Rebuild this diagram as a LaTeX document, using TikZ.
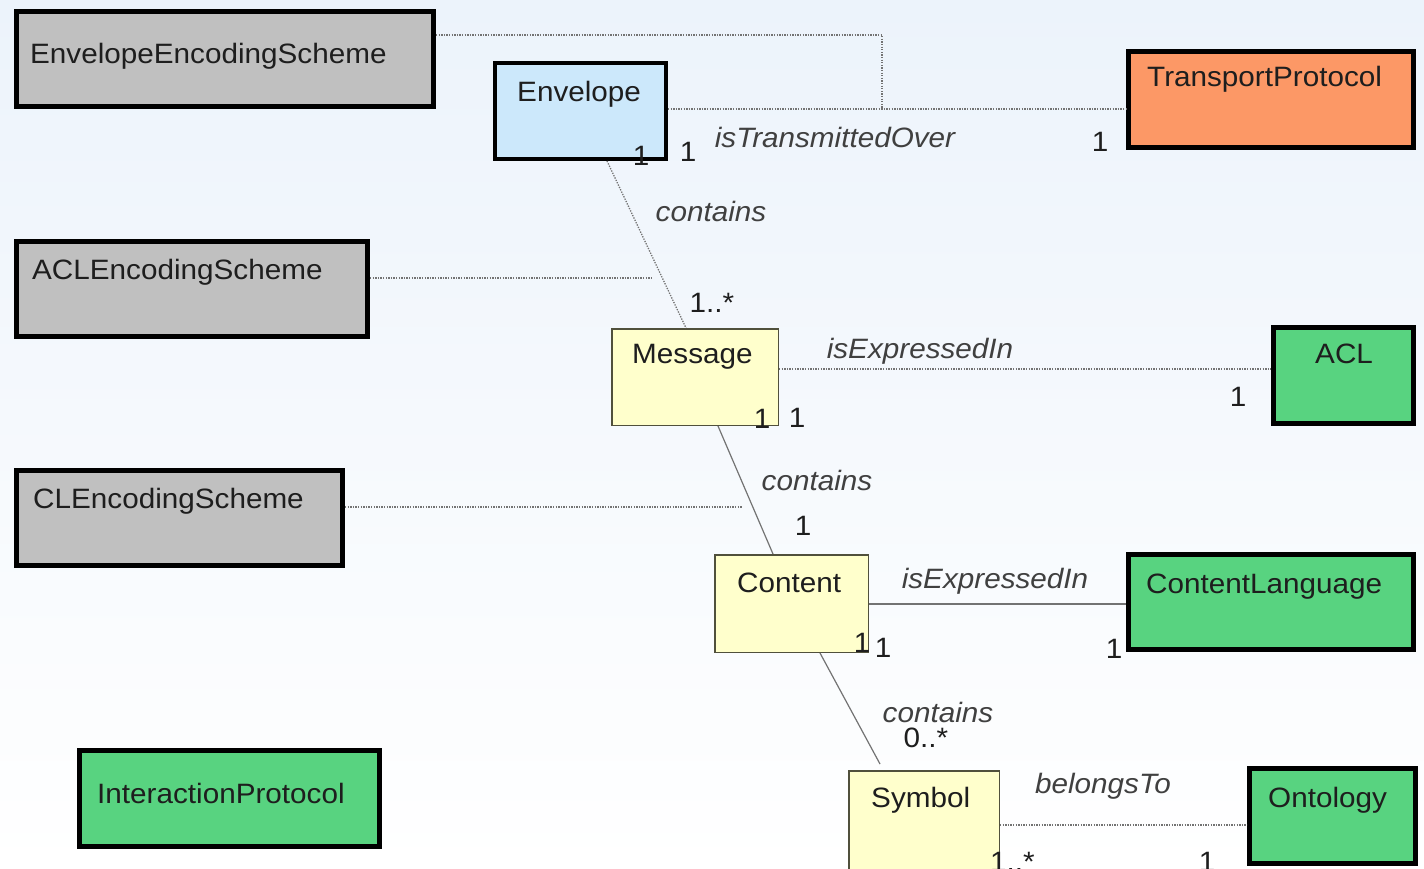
\documentclass[tikz,border=0pt]{standalone}
\usepackage{fontspec}
\setmainfont[FakeStretch=1.06]{Liberation Sans}
\definecolor{bgtop}{RGB}{236,243,251}
\definecolor{encgray}{RGB}{192,192,192}
\definecolor{envblue}{RGB}{204,232,251}
\definecolor{tporange}{RGB}{252,152,102}
\definecolor{langgreen}{RGB}{88,211,128}
\definecolor{classyellow}{RGB}{255,255,204}
\definecolor{boxedge}{RGB}{80,80,60}
\definecolor{linkgray}{RGB}{115,115,115}
\definecolor{textdark}{RGB}{30,30,30}
\begin{document}
\begin{tikzpicture}[x=1pt,y=-1pt,
  box/.style={rectangle, inner sep=0pt, draw=black},
  heavy/.style={box, line width=5pt},
  lightbox/.style={box, line width=1.5pt, draw=boxedge, fill=classyellow},
  classname/.style={anchor=base west, inner sep=0pt, font=\fontsize{28}{32}\selectfont, text=textdark},
  rolelabel/.style={anchor=base, inner sep=0pt, font=\fontsize{28}{32}\selectfont\itshape, text=textdark!85},
  multlabel/.style={anchor=base, inner sep=0pt, font=\fontsize{28}{32}\selectfont, text=textdark},
  dotlink/.style={draw=linkgray, line width=1.3pt, dash pattern=on 1.3pt off 1.3pt},
  solidlink/.style={draw=linkgray, line width=1.2pt},
]
\useasboundingbox (0,0) rectangle (1424,869);
\clip (0,0) rectangle (1424,869);
\shade[top color=bgtop, bottom color=white] (0,0) rectangle (1424,869);

% class boxes
\node[heavy, fill=encgray, minimum width=417pt, minimum height=95pt] (ees) at (225,59) {};
\node[heavy, line width=4pt, fill=envblue, minimum width=171pt, minimum height=96pt] (env) at (580.5,111) {};
\node[heavy, fill=tporange, minimum width=285pt, minimum height=96pt] (tp) at (1271,99.5) {};
\node[heavy, fill=encgray, minimum width=351pt, minimum height=95pt] (acles) at (192,289) {};
\node[lightbox, minimum width=166.5pt, minimum height=96.5pt] (msg) at (695,377) {};
\node[heavy, fill=langgreen, minimum width=140pt, minimum height=96pt] (acl) at (1343.5,375.5) {};
\node[heavy, fill=encgray, minimum width=326pt, minimum height=95pt] (cles) at (179.5,518) {};
\node[lightbox, minimum width=153.5pt, minimum height=97.5pt] (cnt) at (791.5,603.5) {};
\node[heavy, fill=langgreen, minimum width=285pt, minimum height=95pt] (cl) at (1271,602) {};
\node[heavy, fill=langgreen, minimum width=300pt, minimum height=96pt] (ip) at (229.5,798.5) {};
\node[lightbox, minimum width=150.5pt, minimum height=100.5pt] (sym) at (924,821) {};
\node[heavy, fill=langgreen, minimum width=166pt, minimum height=95pt] (ont) at (1332.5,816) {};

% associations
\coordinate (envjoin) at (882,109);
\coordinate (aclesend) at (652,278);
\coordinate (clesend) at (742,507);
\draw[dotlink] (ees.east |- 0,35) -| (envjoin);
\draw[dotlink] (env.east |- 0,109) -- (tp.west |- 0,109);
\draw[dotlink] (env.south -| 607,0) -- (msg.north -| 686,0);
\draw[dotlink] (acles.east |- 0,278) -- (aclesend);
\draw[dotlink] (msg.east |- 0,369) -- (acl.west |- 0,369);
\draw[solidlink] (msg.south -| 718,0) -- (cnt.north -| 773,0);
\draw[dotlink] (cles.east |- 0,507) -- (clesend);
\draw[solidlink] (cnt.east |- 0,604) -- (cl.west |- 0,604);
\draw[solidlink] (cnt.south -| 820,0) -- (880,764);
\draw[dotlink] (sym.east |- 0,825) -- (ont.west |- 0,825);

% class names
\node[classname] (ees-t) at (30,64) {EnvelopeEncodingScheme};
\node[classname] (env-t) at (517,102) {Envelope};
\node[classname] (tp-t) at (1147,87) {TransportProtocol};
\node[classname] (acles-t) at (32,279) {ACLEncodingScheme};
\node[classname] (msg-t) at (632,363) {Message};
\node[classname] (acl-t) at (1315,363) {ACL};
\node[classname] (cles-t) at (33,508) {CLEncodingScheme};
\node[classname] (cnt-t) at (737,592) {Content};
\node[classname] (cl-t) at (1146,593) {ContentLanguage};
\node[classname] (ip-t) at (97,803) {InteractionProtocol};
\node[classname] (sym-t) at (871,807) {Symbol};
\node[classname] (ont-t) at (1268,807) {Ontology};

% role names
\node[rolelabel] (r1) at (835,148) {isTransmittedOver};
\node[rolelabel] (r2) at (711,222) {contains};
\node[rolelabel] (r3) at (920,358) {isExpressedIn};
\node[rolelabel] (r4) at (817,490) {contains};
\node[rolelabel] (r5) at (995,588) {isExpressedIn};
\node[rolelabel] (r6) at (938,722) {contains};
\node[rolelabel] (r7) at (1103,793) {belongsTo};

% multiplicities
\node[multlabel] (m1) at (641,166) {1};
\node[multlabel] (m2) at (688,162) {1};
\node[multlabel] (m3) at (1100,152) {1};
\node[multlabel] (m4) at (712,312) {1..*};
\node[multlabel] (m5) at (762,428) {1};
\node[multlabel] (m6) at (797,427) {1};
\node[multlabel] (m7) at (1238,406) {1};
\node[multlabel] (m8) at (803,535) {1};
\node[multlabel] (m9) at (862,652) {1};
\node[multlabel] (m10) at (883,657) {1};
\node[multlabel] (m11) at (1114,658) {1};
\node[multlabel] (m12) at (926,747) {0..*};
\node[multlabel, anchor=base west] (m13) at (990,871) {1..*};
\node[multlabel] (m14) at (1207,871) {1};
\end{tikzpicture}
\end{document}
